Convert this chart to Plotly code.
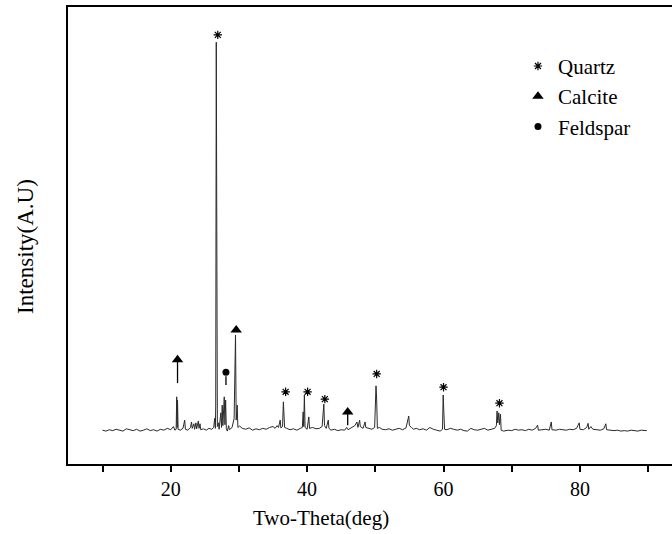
import plotly.graph_objects as go

# XRD pattern (2-theta in degrees, intensity in arbitrary units)
two_theta = [
    10.0, 10.5, 11.0, 11.5, 12.0, 12.5, 13.0, 13.5, 14.0, 14.5, 15.0, 15.5, 16.0, 16.5, 17.0, 17.5,
    18.0, 18.5, 19.0, 19.5, 20.0, 20.4, 20.6, 20.8, 20.88, 20.95, 21.0, 21.08, 21.4, 21.8, 22.05, 22.15,
    22.5, 22.9, 23.05, 23.15, 23.4, 23.5, 23.7, 23.8, 24.05, 24.15, 24.3, 24.4, 24.8, 25.2, 25.6, 26.0,
    26.3, 26.45, 26.55, 26.6, 26.68, 26.76, 26.84, 27.0, 27.1, 27.35, 27.45, 27.55, 27.65, 27.85, 27.95,
    28.05, 28.15, 28.3, 28.5, 28.6, 29.0, 29.3, 29.5, 29.6, 29.75, 29.85, 30.1, 30.5, 31.0, 31.5, 32.0,
    32.5, 33.0, 33.5, 34.0, 34.5, 35.0, 35.3, 35.6, 35.8, 36.05, 36.15, 36.4, 36.52, 36.6, 36.7, 37.0,
    37.5, 38.0, 38.5, 39.0, 39.3, 39.42, 39.5, 39.6, 39.7, 40.0, 40.25, 40.35, 40.8, 41.3, 41.8, 42.2,
    42.45, 42.55, 42.8, 43.1, 43.2, 43.5, 44.0, 44.5, 45.0, 45.5, 45.8, 46.0, 46.5, 47.0, 47.3, 47.45,
    47.7, 47.8, 48.2, 48.5, 48.6, 49.0, 49.5, 49.9, 50.1, 50.2, 50.3, 50.6, 51.0, 51.5, 52.0, 52.5,
    53.0, 53.5, 54.0, 54.5, 54.9, 55.0, 55.3, 55.6, 56.0, 56.5, 57.0, 57.5, 58.0, 58.5, 59.0, 59.5,
    59.85, 59.95, 60.05, 60.15, 60.5, 61.0, 61.5, 62.0, 62.5, 63.0, 63.5, 64.0, 64.5, 65.0, 65.5, 66.0,
    66.5, 67.0, 67.5, 67.75, 67.85, 67.95, 68.1, 68.2, 68.35, 68.45, 68.8, 69.5, 70.0, 70.5, 71.0, 71.5,
    72.0, 72.5, 73.0, 73.5, 73.8, 73.9, 74.5, 75.0, 75.5, 75.8, 75.9, 76.5, 77.0, 77.5, 78.0, 78.5,
    79.0, 79.5, 79.9, 80.0, 80.5, 81.0, 81.2, 81.3, 81.6, 81.9, 82.5, 83.0, 83.5, 83.8, 83.9, 84.5,
    85.0, 85.5, 86.0, 86.5, 87.0, 87.5, 88.0, 88.5, 89.0, 89.8,
]
intensity = [
    74, 72, 75, 73, 76, 74, 72, 77, 75, 73, 76, 72, 74, 77, 73, 75,
    72, 76, 74, 78, 75, 82, 74, 76, 147, 80, 140, 76, 74, 78, 96, 76,
    74, 80, 92, 78, 88, 76, 90, 77, 94, 78, 88, 75, 77, 74, 78, 76,
    80, 100, 78, 129, 923, 424, 82, 90, 76, 112, 80, 129, 84, 147, 86,
    140, 78, 72, 84, 75, 80, 100, 282, 96, 129, 80, 83, 78, 76, 79, 74,
    77, 75, 78, 76, 80, 82, 78, 84, 80, 96, 79, 82, 136, 118, 80, 78,
    75, 77, 74, 78, 80, 114, 82, 151, 80, 76, 103, 78, 80, 77, 78, 82,
    131, 84, 78, 96, 78, 74, 76, 73, 75, 74, 80, 75, 79, 84, 92, 80,
    96, 82, 78, 92, 80, 78, 76, 80, 171, 140, 78, 80, 76, 75, 77, 74,
    76, 78, 75, 79, 105, 84, 80, 76, 78, 75, 77, 74, 80, 76, 74, 72,
    76, 151, 112, 76, 75, 78, 76, 74, 76, 73, 72, 78, 75, 74, 76, 78,
    74, 76, 78, 84, 116, 90, 112, 86, 109, 74, 72, 74, 73, 76, 74, 75,
    73, 76, 74, 78, 85, 74, 75, 76, 74, 92, 75, 74, 76, 75, 74, 76,
    75, 78, 90, 76, 75, 80, 89, 76, 82, 76, 75, 74, 77, 88, 75, 74,
    73, 74, 72, 73, 72, 74, 73, 72, 74, 73,
]

# Phase markers placed above the identified peaks
quartz_x = [26.9, 36.85, 40.07, 42.6, 50.2, 60.0, 68.2]
quartz_y = [939, 158, 158, 142, 197, 168, 133]
calcite_x = [21.0, 29.6, 45.95]
calcite_y = [228, 293, 114]
feldspar_x = [28.1]
feldspar_y = [201]

# Arrow shafts under calcite / feldspar symbols (start, end)
stem_x = [21.0, 45.95, 28.1]
stem_top = [226, 112, 192]
stem_bottom = [177, 85, 173]

tick_vals = [10, 20, 30, 40, 50, 60, 70, 80, 90]
tick_text = ["", "20", "", "40", "", "60", "", "80", ""]

FONT = "Liberation Serif, Times New Roman, serif"

fig = go.Figure()
fig.add_trace(go.Scatter(x=two_theta, y=intensity, mode="lines",
                         line=dict(color="#2a2a2a", width=1), showlegend=False,
                         hoverinfo="skip"))

sx, sy = [], []
for xv, t, b in zip(stem_x, stem_top, stem_bottom):
    sx += [xv, xv, None]
    sy += [t, b, None]
fig.add_trace(go.Scatter(x=sx, y=sy, mode="lines", line=dict(color="black", width=1.3),
                         showlegend=False, hoverinfo="skip"))

fig.add_trace(go.Scatter(x=quartz_x, y=quartz_y, mode="markers", name="Quartz",
                         marker=dict(symbol="asterisk-open", size=7, color="black",
                                     line=dict(color="black", width=1.2))))
fig.add_trace(go.Scatter(x=calcite_x, y=calcite_y, mode="markers", name="Calcite",
                         marker=dict(symbol="triangle-up", size=10, color="black")))
fig.add_trace(go.Scatter(x=feldspar_x, y=feldspar_y, mode="markers", name="Feldspar",
                         marker=dict(symbol="circle", size=7, color="black")))

fig.update_layout(
    width=672, height=534,
    margin=dict(l=68, r=0, t=7, b=70, autoexpand=False),
    paper_bgcolor="white", plot_bgcolor="white",
    font=dict(family=FONT, size=20, color="black"),
    showlegend=True,
    legend=dict(x=0.745, y=0.915, xanchor="left", yanchor="top",
                bgcolor="rgba(0,0,0,0)", font=dict(family=FONT, size=21, color="black"),
                tracegroupgap=0, itemwidth=30),
    xaxis=dict(range=[4.94, 93.5], showgrid=False, zeroline=False, automargin=False,
               showline=True, mirror=True, linecolor="black", linewidth=2,
               ticks="outside", ticklen=6, tickwidth=1.5, tickcolor="black",
               tickvals=tick_vals, ticktext=tick_text,
               tickfont=dict(family=FONT, size=20, color="black")),
    yaxis=dict(range=[0, 1000], showgrid=False, zeroline=False, automargin=False,
               showline=True, mirror=False, linecolor="black", linewidth=2,
               showticklabels=False, ticks=""),
    annotations=[
        dict(text="Two-Theta(deg)", xref="paper", yref="paper", x=0.419, y=-0.118,
             xanchor="center", yanchor="middle", showarrow=False,
             font=dict(family=FONT, size=21, color="black")),
        dict(text="Intensity(A.U)", xref="paper", yref="paper", x=-0.0695, y=0.475,
             xanchor="center", yanchor="middle", showarrow=False, textangle=-90,
             font=dict(family=FONT, size=23, color="black")),
    ],
)

fig.write_html("out.html", config={"displayModeBar": False},
               post_script="document.body.style.margin='0';document.body.style.overflow='hidden';")
